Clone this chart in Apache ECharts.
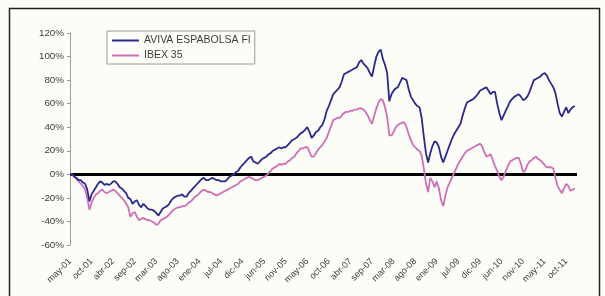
<!DOCTYPE html>
<html>
<head>
<meta charset="utf-8">
<script src="https://cdn.jsdelivr.net/npm/echarts@6/dist/echarts.min.js"></script>
<style>
  html, body { margin: 0; padding: 0; background: #fdfdf8; }
  #chart { width: 605px; height: 296px; }
</style>
</head>
<body>
<div id="chart"></div>
<script>
var myChart = echarts.init(document.getElementById('chart'));

// etiquetas del eje X (una cada 10 puntos)
var xLabels = ['may-01', 'oct-01', 'abr-02', 'sep-02', 'mar-03', 'ago-03', 'ene-04', 'jul-04',
    'dic-04', 'jun-05', 'nov-05', 'may-06', 'oct-06', 'abr-07', 'sep-07', 'mar-08', 'ago-08',
    'ene-09', 'jul-09', 'dic-09', 'jun-10', 'nov-10', 'may-11', 'oct-11'];
var legend = ['AVIVA ESPABOLSA FI', 'IBEX 35'];

// rentabilidad acumulada (%), un punto cada ~2 semanas
var avivaData = [
    0, 0, -2, -3, -5, -5, -7, -8, -13, -23,
    -17, -14, -11, -8, -6, -7, -9, -8, -9, -8,
    -6, -6, -8, -11, -12, -14, -16, -20, -21, -25,
    -23, -22, -26, -28, -25, -27, -29, -30, -30, -31,
    -33, -35, -32, -29, -28, -27, -25, -22, -20, -19,
    -18, -18, -17, -19, -19, -16, -14, -12, -10, -8,
    -6, -4, -3, -5, -5, -4, -3, -4, -5, -5,
    -6, -6, -6, -4, -2, -1, 0, 2, 3, 6,
    8, 10, 12, 14, 15, 11, 10, 9, 11, 13,
    14, 15, 17, 18, 20, 21, 22, 23, 22, 23,
    23, 25, 27, 29, 30, 31, 33, 35, 36, 38,
    40, 36, 31, 33, 36, 37, 40, 42, 47, 54,
    58, 63, 68, 70, 72, 74, 79, 85, 86, 87,
    88, 89, 90, 91, 95, 97, 94, 92, 90, 86,
    83, 92, 100, 104, 106, 98, 93, 86, 62, 68,
    71, 73, 74, 78, 82, 81, 80, 72, 66, 63,
    60, 58, 57, 48, 32, 18, 10, 18, 24, 28,
    27, 23, 15, 10, 15, 20, 25, 30, 34, 37,
    40, 43, 50, 56, 61, 62, 63, 64, 66, 68,
    71, 72, 73, 74, 71, 68, 70, 70, 60, 52,
    46, 50, 54, 58, 62, 64, 66, 67, 68, 66,
    63, 64, 66, 70, 75, 80, 81, 82, 83, 85,
    86, 84, 80, 77, 74, 69, 60, 52, 49, 53,
    57, 52, 55, 57, 58
];
var ibexData = [
    0, 0, -2, -4, -6, -8, -10, -13, -20, -30,
    -24, -20, -17, -16, -14, -13, -15, -16, -15, -14,
    -13, -14, -16, -18, -20, -22, -25, -28, -36, -33,
    -32, -36, -39, -38, -37, -38, -39, -39, -40, -41,
    -43, -42, -39, -38, -37, -36, -34, -32, -30, -29,
    -28, -28, -27, -27, -26, -24, -23, -21, -19, -18,
    -16, -14, -13, -14, -15, -15, -16, -17, -18, -17,
    -16, -15, -14, -13, -12, -11, -10, -9, -8, -6,
    -5, -4, -3, -2, -3, -4, -5, -5, -4, -3,
    -2, -1, 1, 3, 5, 6, 7, 9, 8, 9,
    9, 11, 12, 14, 15, 18, 20, 22, 22, 23,
    23, 19, 15, 15, 18, 21, 23, 25, 28, 31,
    36, 41, 46, 47, 48, 48, 50, 52, 53, 53,
    54, 54, 55, 55, 56, 56, 55, 53, 50, 46,
    43, 50, 56, 61, 64, 63, 57, 49, 33, 33,
    36, 40, 42, 43, 44, 44, 40, 34, 29, 25,
    23, 21, 20, 16, 5, -8, -15, -3, -6, -11,
    -6, -12, -22, -27, -18, -11, -7, -3, 1, 5,
    9, 12, 15, 18, 20, 21, 22, 23, 24, 25,
    26, 24, 19, 15, 16, 17, 12, 7, 3, -2,
    -5, -2, 3, 7, 11, 12, 13, 14, 14, 9,
    2, 3, 8, 11, 12, 14, 15, 13, 12, 10,
    8, 6, 6, 6, 5, -3, -10, -13, -16, -12,
    -8, -10, -14, -13, -12
];

var textColor = '#3c3c3c';
var fontName = 'Liberation Sans, Arial, sans-serif';

function toPairs(arr) {
    return arr.map(function (v, i) { return [i, v]; });
}

var option = {
    backgroundColor: '#fdfdf8',
    animation: false,
    graphic: [{
        type: 'rect',
        left: 7,
        top: 6,
        shape: { width: 590, height: 300 },
        style: { fill: 'none', stroke: '#222', lineWidth: 1.5 },
        silent: true
    }],
    legend: {
        orient: 'vertical',
        left: 107,
        top: 31,
        padding: [4, 4, 3, 5],
        itemGap: 4,
        itemWidth: 27,
        itemHeight: 2,
        icon: 'rect',
        borderColor: '#9a9a9a',
        borderWidth: 1,
        textStyle: { color: textColor, fontSize: 10.5, fontFamily: fontName },
        data: legend
    },
    grid: {
        left: 70,
        right: 28,
        top: 33,
        bottom: 51
    },
    xAxis: {
        type: 'value',
        min: 0,
        max: 235,
        interval: 10,
        axisLine: { show: false, onZero: false },
        axisTick: { show: false },
        splitLine: { show: false },
        axisLabel: {
            rotate: 45,
            margin: 15,
            color: textColor,
            fontSize: 9,
            fontFamily: fontName,
            showMaxLabel: false,
            formatter: function (v) {
                var k = Math.round(v / 10);
                return xLabels[k] || '';
            }
        }
    },
    yAxis: {
        type: 'value',
        min: -60,
        max: 120,
        interval: 20,
        axisLine: { show: true, lineStyle: { color: '#9a9a9a', width: 1 } },
        axisTick: { show: true, length: 3, lineStyle: { color: '#9a9a9a' } },
        splitLine: { show: false },
        axisLabel: {
            color: textColor,
            fontSize: 9.8,
            fontFamily: fontName,
            margin: 6,
            formatter: '{value}%'
        }
    },
    series: [{
        name: legend[0],
        type: 'line',
        data: toPairs(avivaData),
        showSymbol: false,
        symbol: 'none',
        z: 3,
        lineStyle: { color: '#2a2a8e', width: 1.8 },
        itemStyle: { color: '#2a2a8e' },
        markLine: {
            silent: true,
            symbol: ['none', 'none'],
            label: { show: false },
            lineStyle: { color: '#000', width: 3, type: 'solid' },
            data: [{ yAxis: 0 }],
            z: 1
        }
    }, {
        name: legend[1],
        type: 'line',
        data: toPairs(ibexData),
        showSymbol: false,
        symbol: 'none',
        z: 2,
        lineStyle: { color: '#cf6fb8', width: 1.8 },
        itemStyle: { color: '#cf6fb8' }
    }]
};

myChart.setOption(option);
</script>
</body>
</html>
